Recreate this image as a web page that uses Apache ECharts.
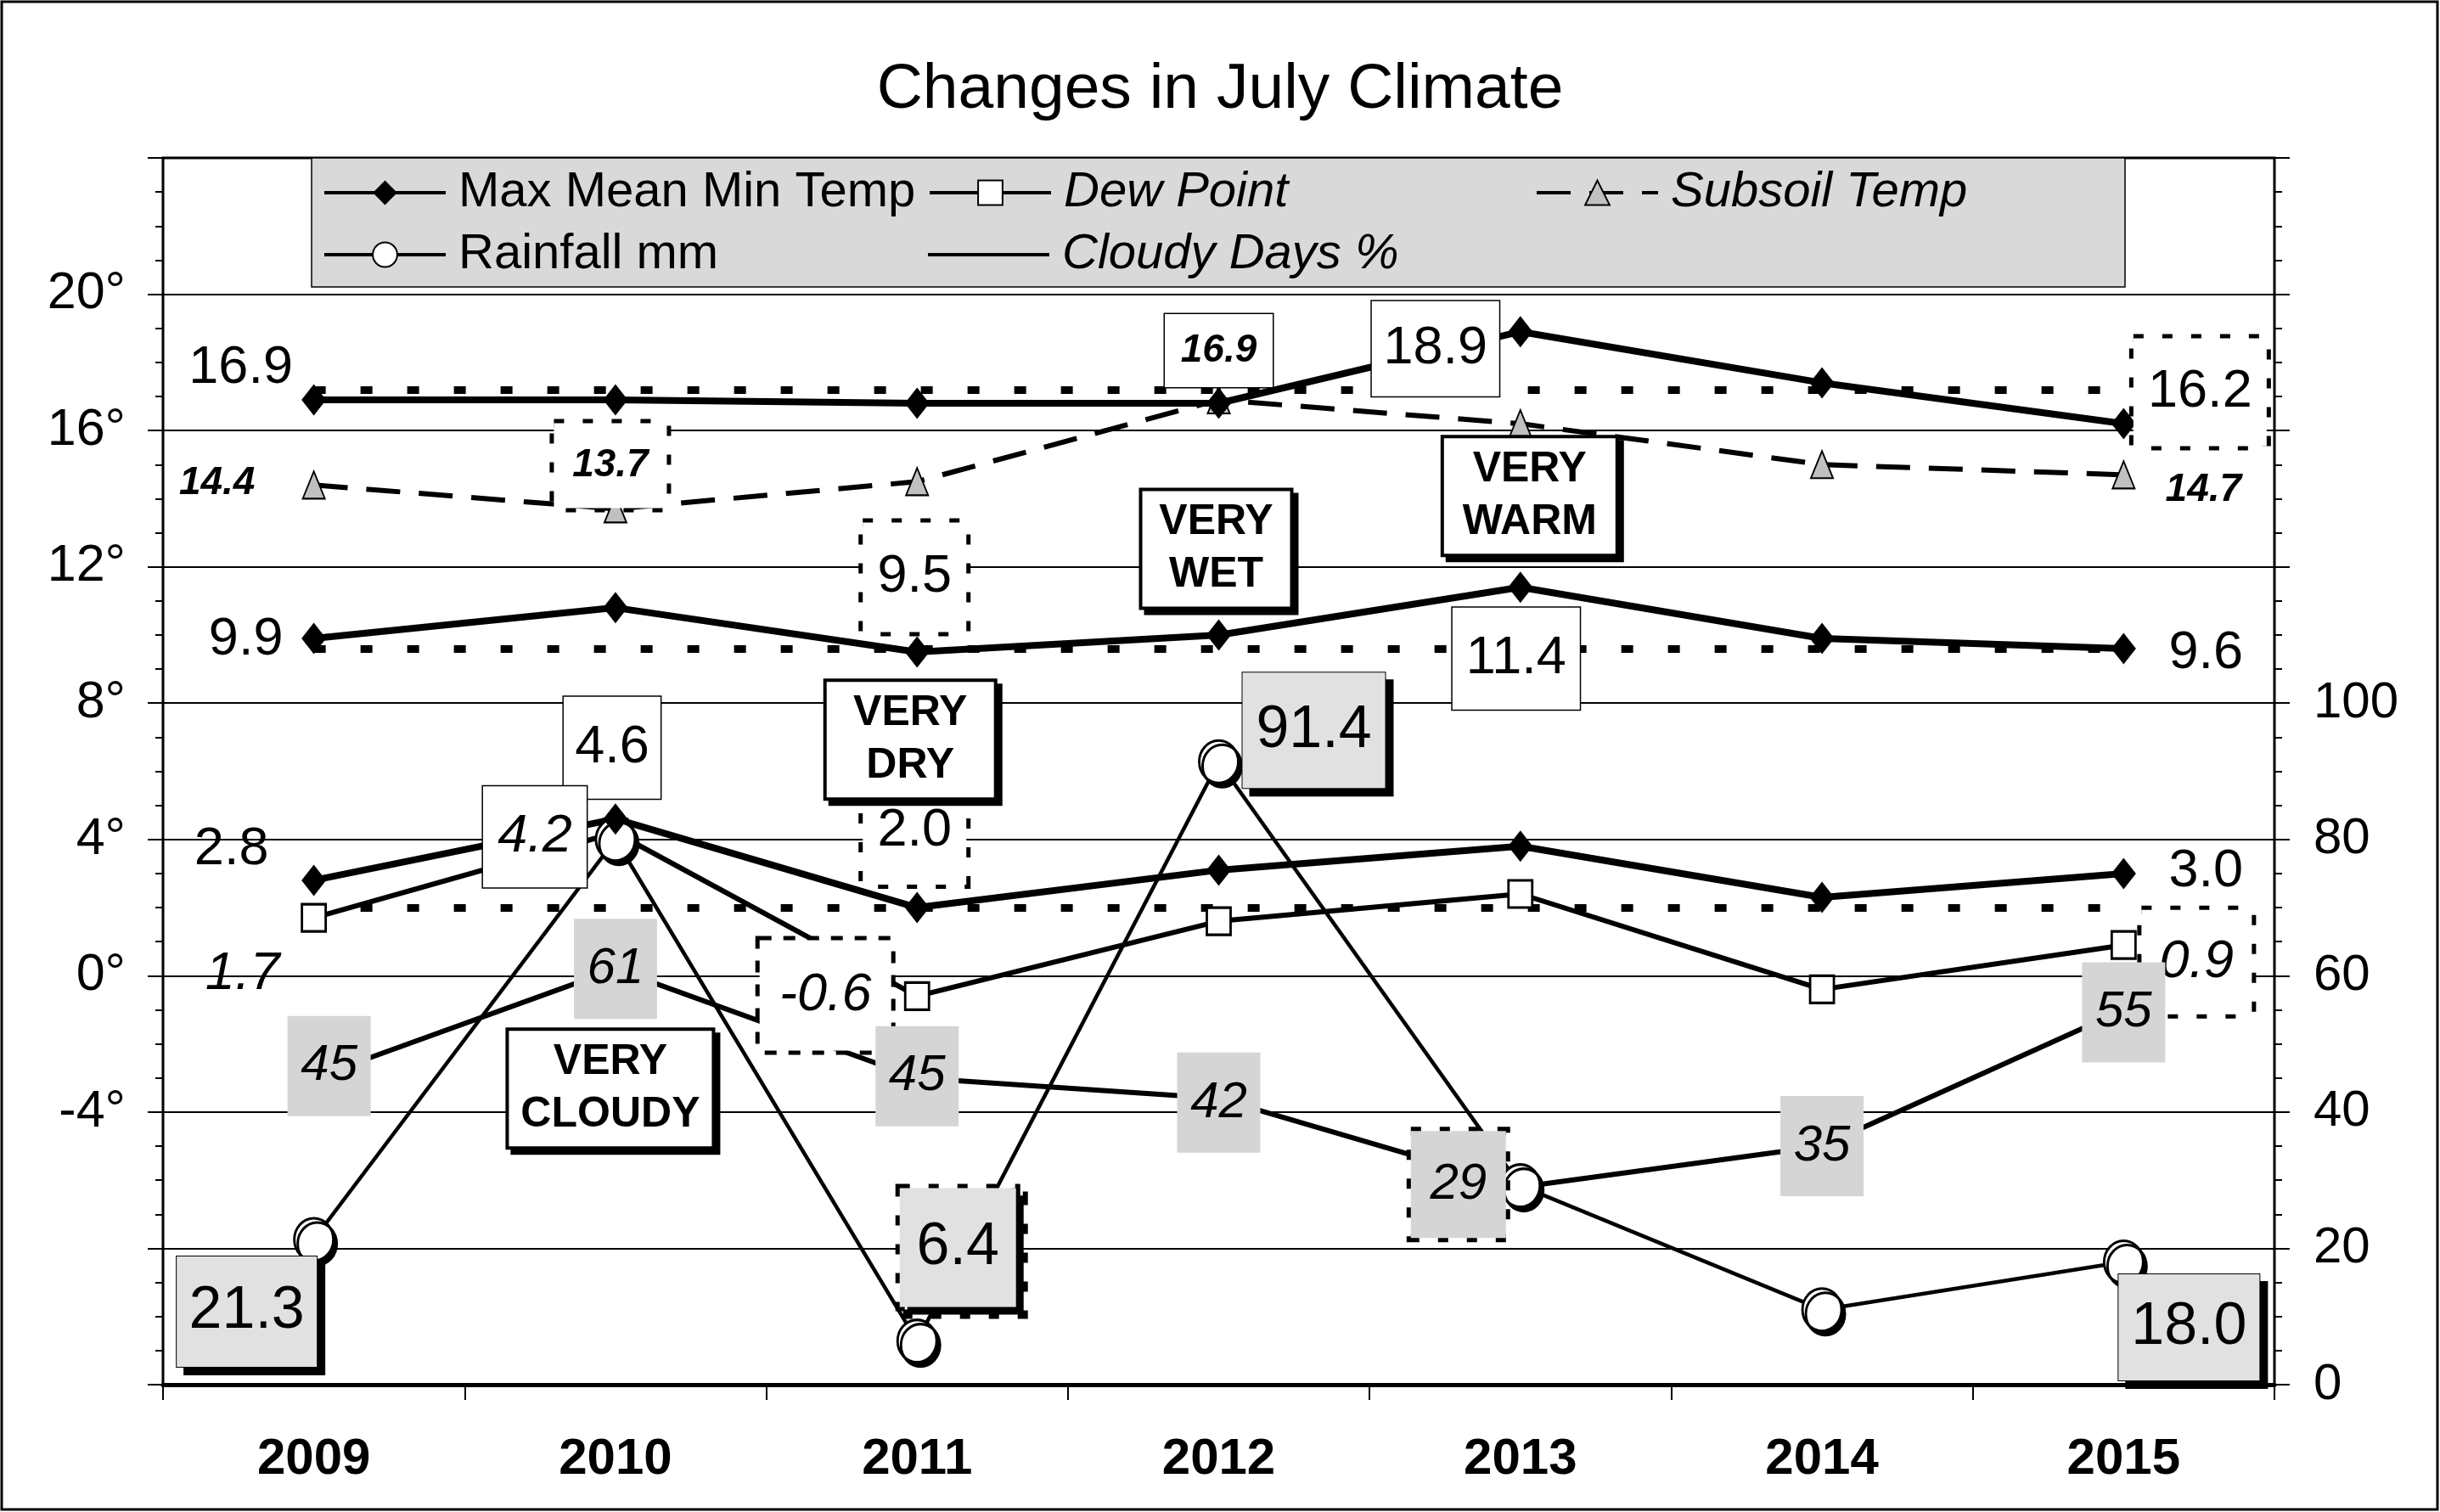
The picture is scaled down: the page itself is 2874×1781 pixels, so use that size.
<!DOCTYPE html>
<html><head><meta charset="utf-8">
<script src="https://cdn.jsdelivr.net/npm/echarts@6/dist/echarts.min.js"></script>
<style>html,body{margin:0;padding:0;background:#fff}#c{width:2874px;height:1781px}</style>
</head><body><div id="c"></div>
<script>
// ---------- data ----------
const years = ['2009','2010','2011','2012','2013','2014','2015'];
const maxTemp = [16.9, 16.9, 16.8, 16.8, 18.9, 17.4, 16.2];
const meanTemp = [9.9, 10.8, 9.5, 10.0, 11.4, 9.9, 9.6];
const minTemp = [2.8, 4.6, 2.0, 3.1, 3.8, 2.3, 3.0];
const dewPoint = [1.7, 4.2, -0.6, 1.6, 2.4, -0.4, 0.9];
const subsoilTemp = [14.4, 13.7, 14.5, 16.9, 16.2, 15.0, 14.7];
const rainfall = [21.3, 80.0, 6.4, 91.4, 29.2, 11.0, 18.0];
const cloudyDays = [45, 61, 45, 42, 29, 35, 55];
const maxAvg = 17.2, meanAvg = 9.6, minAvg = 2.0;
const tempTicks = ['-4°','0°','4°','8°','12°','16°','20°'];
const rainTicks = ['0','20','40','60','80','100'];
const notes = [
  {text:'VERY\nCLOUDY', year:'2010', at:-3.31},
  {text:'VERY\nDRY', year:'2011', at:6.93},
  {text:'VERY\nWET', year:'2012', at:12.53},
  {text:'VERY\nWARM', year:'2013', at:14.08}
];

// ---------- styling ----------
const FF = "'Liberation Sans', Arial, Helvetica, sans-serif";
function txt(dx, dy, o) {
  return Object.assign({show:true, position:'inside', offset:[dx,dy], color:'#000', fontFamily:FF,
    fontSize:63, align:'center', verticalAlign:'middle'}, o || {});
}
function box(dx, dy, w, h, o) {
  return txt(dx, dy, Object.assign({width:w, height:h, lineHeight:h, padding:0,
    backgroundColor:'#fff', borderColor:'#000', borderWidth:1.5}, o || {}));
}
const DOT = {borderType:[12,22], borderWidth:5};
const HATCH = {backgroundColor:'#e1e1e1', borderWidth:1, shadowColor:'#000', shadowOffsetX:9, shadowOffsetY:9, shadowBlur:0, fontSize:70};
const GRAY = {backgroundColor:'#d5d5d5', borderWidth:0, fontStyle:'italic', fontSize:60};
const IT = {fontStyle:'italic'};
const BI = {fontStyle:'italic', fontWeight:'bold', fontSize:46};
const CW = 98, CH = 118;

const labelSets = {
  max: {0: txt(-86,-37), 4: box(-100,20,150,112), 6: box(90,-37,157,127, DOT)},
  mean: {0: txt(-80,2), 2: box(-3,-88,122,129, DOT), 4: box(-5,84,150,120), 6: txt(97,6)},
  min: {0: txt(-97,-36), 1: box(-4,-84,114,120), 2: box(-3,-90,122,126, DOT), 6: txt(97,-2)},
  dew: {0: txt(-84,66,IT), 1: box(-95,5,122,119,IT), 2: box(-108,-1,155,130,Object.assign({borderType:[14,14], borderWidth:5}, IT)), 6: box(86,20,130,123,Object.assign({}, DOT, IT))},
  sub: {0: txt(-114,-2,BI), 1: box(-6,-51,133,100,Object.assign({}, DOT, BI)), 3: box(0,-58,127,86,BI), 6: txt(94,18,BI)},
  rain: {0: box(-79,85,165,130,HATCH), 2: box(48,-110,137,140,Object.assign({}, HATCH, DOT)), 3: box(112,-37,168,136,HATCH), 6: box(77,77,166,125,HATCH)},
  cloud: {0: box(18,-14,CW,CH,GRAY), 1: box(0,0,CW,CH,GRAY), 2: box(0,-2,CW,CH,GRAY), 3: box(0,5,CW,CH,GRAY),
          4: box(-73,-3,112,126,Object.assign({}, GRAY, DOT)), 5: box(0,0,CW,CH,GRAY), 6: box(0,3,CW,CH,GRAY)}
};
const fix1 = p => Number(p.value).toFixed(1);
const int0 = p => String(p.value);
function labelSeries(arr, set, axis, fmt) {
  return {type:'scatter', yAxisIndex:axis, z:10, silent:true, symbol:'circle', symbolSize:1,
    itemStyle:{color:'rgba(0,0,0,0)', opacity:1},
    data: arr.map((v, i) => ({value:v, label: set[i] ? Object.assign({formatter:fmt}, set[i]) : {show:false}}))};
}
function avgLine(v) {
  return {silent:true, z:1, symbol:['none','none'], label:{show:false},
    lineStyle:{type:[14,41], width:9, color:'#000', cap:'butt'},
    data:[[{coord:[years[0], v]}, {coord:[years[years.length-1], v]}]]};
}
const notePlace = [{dx:-6, w:239}, {dx:-8, w:197}, {dx:-3, w:174}, {dx:11, w:202}];

const tempLine = {width:8, color:'#000'};
const diamond = {symbol:'diamond', symbolSize:[29,37], itemStyle:{color:'#000'}};
const plainLineIcon = 'path://M0,0 M143,36 M0,16 L143,16 L143,20 L0,20 Z';

const option = {
  animation:false,
  backgroundColor:'#fff',
  title:{text:'Changes in July Climate', left:'center', top:64,
    textStyle:{fontFamily:FF, fontSize:75, fontWeight:'normal', color:'#000'}},
  grid:{left:192, right:195, top:186, bottom:150, show:true, borderColor:'#000', borderWidth:3},
  graphic:[
    {type:'rect', z:-10, silent:true, shape:{x:2, y:2, width:2869, height:1776}, style:{fill:null, stroke:'#000', lineWidth:3}},
    {type:'rect', z:3, silent:true, shape:{x:367, y:186, width:2136, height:152}, style:{fill:'#d9d9d9', stroke:'#000', lineWidth:1.5}}
  ],
  legend: [
    {name:'Max Mean Min Temp', left:380, top:197},
    {name:'Dew Point', left:1093, top:197, it:true},
    {name:'Subsoil Temp', left:1808, top:197, it:true},
    {name:'Rainfall mm', left:380, top:270},
    {name:'Cloudy Days %', left:1093, top:270, it:true, icon:plainLineIcon}
  ].map(l => ({
    data:[Object.assign({name:l.name, textStyle: l.it ? {fontStyle:'italic'} : {}}, l.icon ? {icon:l.icon, itemStyle:{color:'#000'}} : {})],
    left:l.left, top:l.top, padding:0, itemWidth:143, itemHeight:36, selectedMode:false, z:5,
    lineStyle:{width:4},
    textStyle:{fontFamily:FF, fontSize:58, color:'#000', lineHeight:60, padding:[0,0,0,10]}
  })),
  xAxis:{type:'category', data:years, boundaryGap:true,
    axisLine:{onZero:false, lineStyle:{color:'#000', width:5}},
    axisTick:{show:true, length:18, interval:0, lineStyle:{color:'#000', width:2}},
    axisLabel:{fontFamily:FF, fontSize:60, fontWeight:'bold', color:'#000', margin:58},
    splitLine:{show:false}},
  yAxis:[
    {type:'value', min:-12, max:24, interval:4, position:'left',
      axisLine:{show:true, lineStyle:{color:'#000', width:2}},
      axisTick:{show:true, length:18, lineStyle:{color:'#000', width:2}},
      minorTick:{show:true, splitNumber:4, length:9, lineStyle:{color:'#000', width:2}},
      splitLine:{show:true, lineStyle:{color:'#000', width:2}},
      axisLabel:{fontFamily:FF, fontSize:61, color:'#000', margin:44,
        formatter: v => { const s = v + '°'; return tempTicks.indexOf(s) >= 0 ? s : ''; }}},
    {type:'value', min:0, max:180, interval:20, position:'right',
      axisLine:{show:true, lineStyle:{color:'#000', width:2}},
      axisTick:{show:true, length:18, lineStyle:{color:'#000', width:2}},
      minorTick:{show:true, splitNumber:4, length:9, lineStyle:{color:'#000', width:2}},
      splitLine:{show:false},
      axisLabel:{fontFamily:FF, fontSize:60, color:'#000', margin:46,
        formatter: v => rainTicks.indexOf(String(v)) >= 0 ? String(v) : ''}}
  ],
  series:[
    {name:'Cloudy Days %', type:'line', yAxisIndex:1, symbol:'none',
      lineStyle:{width:6, color:'#000'}, itemStyle:{color:'#000'}, data: cloudyDays},
    {name:'Dew Point', type:'line', yAxisIndex:0, symbol:'rect', symbolSize:[28,32],
      lineStyle:{width:6, color:'#000'}, itemStyle:{color:'#fff', borderColor:'#000', borderWidth:3},
      data: dewPoint},
    {name:'Rainfall mm', type:'line', yAxisIndex:1, symbol:'circle', symbolSize:[46,50],
      lineStyle:{width:4.5, color:'#000'},
      itemStyle:{color:'#fff', borderColor:'#000', borderWidth:3, shadowColor:'#000', shadowOffsetX:4, shadowOffsetY:5, shadowBlur:0},
      data: rainfall},
    Object.assign({name:'Max Mean Min Temp', type:'line', yAxisIndex:0, lineStyle:tempLine,
      data: minTemp, markLine: avgLine(minAvg)}, diamond),
    Object.assign({name:'Max Mean Min Temp', type:'line', yAxisIndex:0, lineStyle:tempLine,
      data: meanTemp, markLine: avgLine(meanAvg)}, diamond),
    {name:'Subsoil Temp', type:'line', yAxisIndex:0, symbol:'triangle', symbolSize:[26,32],
      lineStyle:{width:6, color:'#000', type:[40,22]}, itemStyle:{color:'#c0c0c0', borderColor:'#000', borderWidth:2},
      data: subsoilTemp},
    Object.assign({name:'Max Mean Min Temp', type:'line', yAxisIndex:0, lineStyle:tempLine,
      data: maxTemp, markLine: avgLine(maxAvg)}, diamond),
    // value labels drawn above all lines
    labelSeries(subsoilTemp, labelSets.sub, 0, fix1),
    labelSeries(maxTemp, labelSets.max, 0, fix1),
    labelSeries(meanTemp, labelSets.mean, 0, fix1),
    labelSeries(minTemp, labelSets.min, 0, fix1),
    labelSeries(dewPoint, labelSets.dew, 0, fix1),
    labelSeries(rainfall, labelSets.rain, 1, fix1),
    labelSeries(cloudyDays, labelSets.cloud, 1, int0),
    // annotation boxes
    {type:'scatter', yAxisIndex:0, z:30, silent:true, data:[],
      markPoint:{z:40, symbol:'rect', symbolSize:1, itemStyle:{color:'rgba(0,0,0,0)', opacity:1}, silent:true,
        label:{show:true, position:'inside', formatter: p => p.name, fontFamily:FF, fontWeight:'bold',
          fontSize:50, lineHeight:62, color:'#000', align:'center', verticalAlign:'middle',
          backgroundColor:'#fff', borderColor:'#000', borderWidth:4, padding:[6,0],
          shadowColor:'#000', shadowOffsetX:6, shadowOffsetY:6, shadowBlur:0},
        data: notes.map((n, i) => ({name:n.text, coord:[n.year, n.at],
          label:{offset:[notePlace[i].dx, 0], width:notePlace[i].w}}))}}
  ]
};
const chart = echarts.init(document.getElementById('c'));
chart.setOption(option);
</script></body></html>
